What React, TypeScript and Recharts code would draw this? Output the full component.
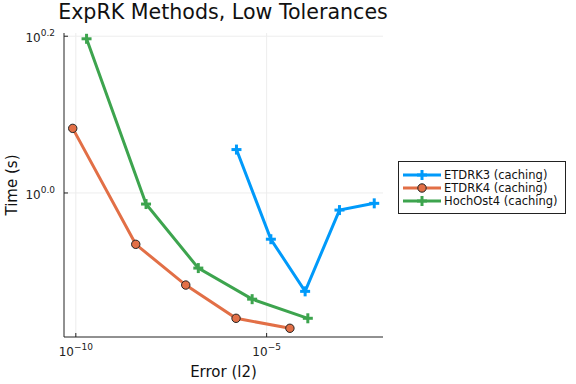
import React from "react";
import { ScatterChart, Scatter, XAxis, YAxis, ReferenceLine } from "recharts";

// error (l2) vs time (s)
const etdrk3Err = [1.62e-6, 1.29e-5, 1.02e-4, 8.1e-4, 6.6e-3];
const etdrk3Time = [1.136, 0.873, 0.749, 0.951, 0.97];
const etdrk4Err = [8.3e-11, 3.72e-9, 7.6e-8, 1.58e-6, 4.07e-5];
const etdrk4Time = [1.209, 0.86, 0.763, 0.692, 0.672];
const hochErr = [1.91e-10, 6.92e-9, 1.62e-7, 4.17e-6, 1.2e-4];
const hochTime = [1.573, 0.968, 0.802, 0.732, 0.692];

const xTicks = [1e-10, 1e-5];
const yTicks = [1, 1.5849];
const xDomain = [4.9e-11, 1.12e-2];
const yDomain = [0.655, 1.6];

const BLUE = "#009AFA";
const ORANGE = "#E26F46";
const GREEN = "#3DA44E";
const GRID = "#ededed";
const FONT = "DejaVu Sans";

const toPoints = (xs: number[], ys: number[]) => xs.map((x, i) => ({ x, y: ys[i] }));

const Cross = ({ cx, cy, color }: any) => (
  <g>
    <line x1={cx - 5} x2={cx + 5} y1={cy} y2={cy} stroke={color} strokeWidth={3} />
    <line x1={cx} x2={cx} y1={cy - 5} y2={cy + 5} stroke={color} strokeWidth={3} />
  </g>
);

const Dot = ({ cx, cy }: any) => (
  <circle cx={cx} cy={cy} r={4.2} fill={ORANGE} stroke="#222" strokeWidth={1} />
);

const XTick = ({ x, y, payload }: any) => {
  const e = Math.round(Math.log10(payload.value));
  return (
    <g>
      <line x1={x} x2={x} y1={y} y2={y - 4} stroke="#222" />
      <text x={x} y={y + 19} textAnchor="middle" fontFamily={FONT} fill="#222">
        <tspan fontSize={12}>10</tspan>
        <tspan fontSize={9} dy={-6}>{"\u2212" + Math.abs(e)}</tspan>
      </text>
    </g>
  );
};

const YTick = ({ x, y, payload }: any) => {
  const e = Math.log10(payload.value).toFixed(1);
  return (
    <g>
      <line x1={x} x2={x + 4} y1={y} y2={y} stroke="#222" />
      <text x={x - 9} y={y + 6} textAnchor="end" fontFamily={FONT} fill="#222">
        <tspan fontSize={12}>10</tspan>
        <tspan fontSize={9} dy={-6}>{e}</tspan>
      </text>
    </g>
  );
};

const legendItems = [
  { name: "ETDRK3 (caching)", color: BLUE, kind: "cross" },
  { name: "ETDRK4 (caching)", color: ORANGE, kind: "dot" },
  { name: "HochOst4 (caching)", color: GREEN, kind: "cross" },
];

export default function App() {
  return (
    <div style={{ position: "absolute", left: 0, top: 0, width: 576, height: 384, background: "#fff", fontFamily: FONT }}>
      <div style={{ position: "absolute", left: 0, top: 0, width: 446, textAlign: "center", fontSize: 20.6, lineHeight: "24px", color: "#111" }}>
        ExpRK Methods, Low Tolerances
      </div>
      <ScatterChart width={576} height={384} margin={{ top: 33, right: 193, bottom: 0, left: 0 }}>
        {xTicks.map((t) => (
          <ReferenceLine key={"gx" + t} x={t} stroke={GRID} strokeWidth={1} />
        ))}
        {yTicks.map((t) => (
          <ReferenceLine key={"gy" + t} y={t} stroke={GRID} strokeWidth={1} />
        ))}
        <XAxis
          dataKey="x"
          type="number"
          scale="log"
          domain={xDomain}
          ticks={xTicks}
          allowDataOverflow
          height={47}
          tickSize={0}
          tickMargin={0}
          tick={<XTick />}
          stroke="#222"
          label={{
            content: ({ viewBox }: any) => (
              <text x={viewBox.x + viewBox.width / 2} y={377} textAnchor="middle" fontSize={15} fontFamily={FONT} fill="#111">
                Error (l2)
              </text>
            ),
          }}
        />
        <YAxis
          dataKey="y"
          type="number"
          scale="log"
          domain={yDomain}
          ticks={yTicks}
          allowDataOverflow
          width={64}
          tickSize={0}
          tickMargin={0}
          tick={<YTick />}
          stroke="#222"
          label={{
            content: ({ viewBox }: any) => {
              const cy = viewBox.y + viewBox.height / 2;
              return (
                <text x={17} y={cy} transform={`rotate(-90 17 ${cy})`} textAnchor="middle" fontSize={15} fontFamily={FONT} fill="#111">
                  Time (s)
                </text>
              );
            },
          }}
        />
        <Scatter
          data={toPoints(etdrk3Err, etdrk3Time)}
          line={{ stroke: BLUE, strokeWidth: 3 }}
          lineType="joint"
          shape={(p: any) => <Cross {...p} color={BLUE} />}
          isAnimationActive={false}
        />
        <Scatter
          data={toPoints(etdrk4Err, etdrk4Time)}
          line={{ stroke: ORANGE, strokeWidth: 3 }}
          lineType="joint"
          shape={(p: any) => <Dot {...p} />}
          isAnimationActive={false}
        />
        <Scatter
          data={toPoints(hochErr, hochTime)}
          line={{ stroke: GREEN, strokeWidth: 3 }}
          lineType="joint"
          shape={(p: any) => <Cross {...p} color={GREEN} />}
          isAnimationActive={false}
        />
      </ScatterChart>
      <div style={{ position: "absolute", left: 398, top: 161, width: 166, height: 51, border: "1px solid #222", background: "#fff" }}>
        <svg width={166} height={51}>
          {legendItems.map((it, i) => {
            const cy = 13 + i * 13;
            return (
              <g key={it.name}>
                <line x1={4} x2={42} y1={cy} y2={cy} stroke={it.color} strokeWidth={3} />
                {it.kind === "dot" ? <Dot cx={23} cy={cy} /> : <Cross cx={23} cy={cy} color={it.color} />}
                <text x={45} y={cy + 4} fontSize={11.5} fontFamily={FONT} fill="#111">
                  {it.name}
                </text>
              </g>
            );
          })}
        </svg>
      </div>
    </div>
  );
}
